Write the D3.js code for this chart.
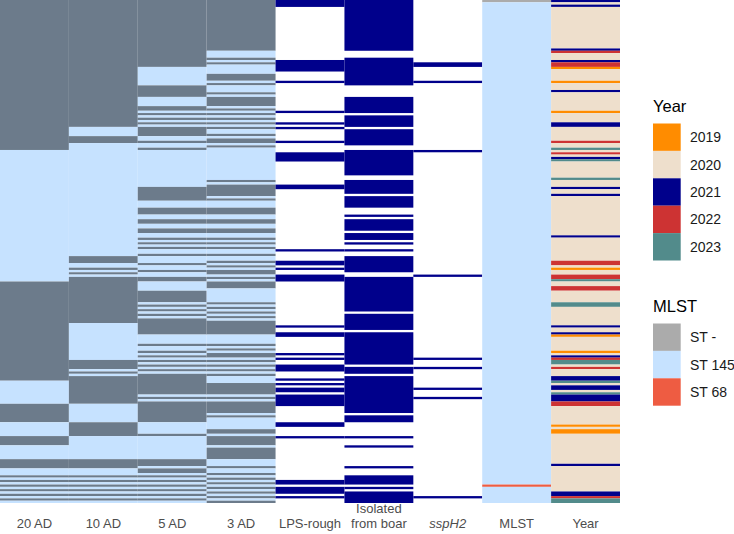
<!DOCTYPE html>
<html>
<head>
<meta charset="utf-8">
<script src="https://cdn.jsdelivr.net/npm/d3@7"></script>
<style>
  body { margin: 0; background: #fff; }
  svg { display: block; font-family: "Liberation Sans", Arial, sans-serif; }
</style>
</head>
<body>
<svg width="734" height="534"></svg>
<script>
// number of isolates = rows of the heatmap
const nRows = 218;

// columns along the bottom
const columns = ['20 AD', '10 AD', '5 AD', '3 AD', 'LPS-rough', 'Isolated from boar', 'sspH2', 'MLST', 'Year'];

// AD columns as runs of [value, count] from the top, 1 = dark, 0 = light
const ad20Runs = [[1,65],[0,57],[1,43],[0,10],[1,8],[0,6],[1,4],[0,6],[1,4],[0,3],
  [1,1],[0,1],[1,1],[0,1],[1,1],[0,1],[1,1],[0,1],[1,1],[0,1],[1,1],[0,1]];
const ad10Runs = [[1,55],[0,4],[1,3],[0,49],[1,3],[0,2],[1,1],[0,1],[1,1],[0,1],[1,20],[0,16],
  [1,4],[0,1],[1,1],[0,1],[1,12],[0,8],[1,6],[0,10],[1,4],[0,3],
  [1,1],[0,1],[1,1],[0,1],[1,1],[0,1],[1,1],[0,1],[1,1],[0,1],[1,1],[0,1]];
const ad5Runs = [[1,29],[0,8],[1,5],[0,4],[1,2],[0,1],[1,1],[0,1],[1,1],[0,1],[1,1],[0,1],[1,4],
  [0,2],[1,1],[0,2],[1,1],[0,16],[1,6],[0,3],[1,3],[0,2],[1,2],[0,2],[1,2],[0,2],
  [1,1],[0,1],[1,1],[0,1],[1,1],[0,2],[1,1],[0,3],[1,1],[0,2],[1,1],[0,2],[1,2],[0,4],[1,5],[0,1],
  [1,1],[0,1],[1,1],[0,1],[1,1],[0,1],[1,7],[0,4],[1,1],[0,2],
  [1,1],[0,1],[1,1],[0,1],[1,1],[0,1],[1,1],[0,1],[1,1],[0,1],[1,9],
  [0,1],[1,1],[0,1],[1,9],[0,5],[1,1],[0,10],[1,3],[0,1],[1,2],
  [0,1],[1,1],[0,1],[1,1],[0,1],[1,1],[0,1],[1,1],[0,1],[1,1],[0,1],[1,1],[0,1]];
const ad3Runs = [[1,22],[0,3],[1,1],[0,1],[1,1],[0,4],[1,3],[0,1],[1,1],[0,3],[1,1],[0,1],[1,4],[0,1],[1,1],
  [0,1],[1,1],[0,1],[1,1],[0,1],[1,1],[0,1],[1,1],
  [0,2],[1,1],[0,1],[1,2],[0,1],[1,1],[0,14],[1,1],[0,1],[1,5],[0,1],[1,1],
  [0,3],[1,3],[0,2],[1,2],[0,2],[1,2],[0,2],[1,1],[0,1],[1,1],[0,1],[1,1],[0,2],[1,1],
  [0,2],[1,1],[0,1],[1,1],[0,1],[1,2],[0,1],[1,1],[0,1],[1,3],[0,6],[1,1],[0,1],
  [1,1],[0,1],[1,1],[0,1],[1,1],[0,1],[1,6],[0,4],[1,1],[0,1],[1,1],[0,1],[1,2],
  [0,1],[1,1],[0,1],[1,1],[0,1],[1,1],[0,1],[1,1],
  [0,3],[1,5],[0,1],[1,1],[0,1],[1,5],[0,1],[1,1],[0,5],[1,2],[0,1],[1,4],[0,1],[1,5],[0,3],[1,1],[0,2],
  [1,1],[0,1],[1,1],[0,1],[1,1],[0,1],[1,1],[0,1],[1,1],[0,1],[1,1],[0,1],[1,1]];

// binary columns: [first row, last row] ranges that are positive
const lpsRough = [[0,2],[26,30],[35,35],[48,48],[53,53],[55,55],[61,61],[66,69],[80,81],[108,108],
  [113,114],[116,116],[119,121],[141,141],[144,145],[153,153],[155,155],[158,160],[164,164],[166,166],
  [168,169],[171,175],[183,184],[189,189],[208,209],[211,213],[215,215]];
const fromBoar = [[0,21],[25,36],[42,48],[50,54],[56,62],[65,75],[78,83],[85,89],[93,93],[95,99],
  [101,103],[105,105],[108,108],[111,117],[120,134],[136,142],[144,157],[159,161],[163,178],[180,182],
  [189,189],[193,193],[202,202],[206,209],[211,211],[213,217]];
const sspH2 = [[27,28],[35,35],[65,65],[119,119],[155,155],[159,159],[168,168],[172,172],[215,215]];

// MLST: ST 145 everywhere except these rows
const mlstLevels = ['ST -', 'ST 145', 'ST 68'];
const mlstRowsUnknown = [0];
const mlstRows68 = [210];

// Year: 2020 everywhere except these rows
const yearLevels = ['2019', '2020', '2021', '2022', '2023'];
const yearRows2019 = [29, 35, 48, 116, 145, 152, 184, 186, 187];
const yearRows2021 = [0, 2, 21, 26, 39, 53, 54, 68, 81, 84, 102, 141, 144, 154, 163, 164, 167, 168,
  171, 172, 173, 201, 213, 214];
const yearRows2022 = [22, 27, 28, 61, 66, 113, 114, 119, 120, 124, 125, 155, 159, 174, 175, 215];
const yearRows2023 = [64, 69, 77, 121, 131, 132, 156, 157, 165, 170, 216, 217];

//colors
const adColor = d3.scaleOrdinal([1, 0], ['#6C7B8B', '#C6E2FF']);
const navy = '#00008B';
const mlstColor = d3.scaleOrdinal(mlstLevels, ['#ABABAB', '#C6E2FF', '#EE5C42']);
const yearColor = d3.scaleOrdinal(yearLevels, ['#FF8C00', '#EEDFCC', '#00008B', '#CD3333', '#528B8B']);

// helpers to turn the lists above into one value per row
const fromRuns = runs => runs.flatMap(([v, n]) => Array(n).fill(v));
const fromRanges = ranges => {
  const a = Array(nRows).fill(0);
  ranges.forEach(([s, e]) => { for (let i = s; i <= e; i++) a[i] = 1; });
  return a;
};
const mlst = Array(nRows).fill('ST 145');
mlstRowsUnknown.forEach(i => mlst[i] = 'ST -');
mlstRows68.forEach(i => mlst[i] = 'ST 68');
const year = Array(nRows).fill('2020');
yearRows2019.forEach(i => year[i] = '2019');
yearRows2021.forEach(i => year[i] = '2021');
yearRows2022.forEach(i => year[i] = '2022');
yearRows2023.forEach(i => year[i] = '2023');

// one entry per column: row values and how to colour them (null = left white)
const cols = [
  { name: '20 AD', values: fromRuns(ad20Runs), fill: adColor },
  { name: '10 AD', values: fromRuns(ad10Runs), fill: adColor },
  { name: '5 AD', values: fromRuns(ad5Runs), fill: adColor },
  { name: '3 AD', values: fromRuns(ad3Runs), fill: adColor },
  { name: 'LPS-rough', values: fromRanges(lpsRough), fill: v => v ? navy : null },
  { name: 'Isolated from boar', values: fromRanges(fromBoar), fill: v => v ? navy : null },
  { name: 'sspH2', values: fromRanges(sspH2), fill: v => v ? navy : null },
  { name: 'MLST', values: mlst, fill: mlstColor },
  { name: 'Year', values: year, fill: yearColor }
];

// merge neighbouring rows with the same value into one block
function segments(vals) {
  const segs = [];
  let s = 0;
  for (let i = 1; i <= vals.length; i++) {
    if (i === vals.length || vals[i] !== vals[s]) {
      segs.push({ start: s, end: i, value: vals[s] });
      s = i;
    }
  }
  return segs;
}

const svg = d3.select('svg');
const plotH = 503;

const x = d3.scaleBand().domain(columns).range([0, 620]);
const y = d3.scaleLinear().domain([0, nRows]).range([0, plotH]);

const heat = svg.append('g');
cols.forEach(c => {
  heat.append('g')
    .selectAll('rect')
    .data(segments(c.values).filter(d => c.fill(d.value)))
    .join('rect')
    .attr('x', x(c.name))
    .attr('width', x.bandwidth())
    .attr('y', d => y(d.start))
    .attr('height', d => y(d.end) - y(d.start))
    .attr('fill', d => c.fill(d.value));
});

// bottom labels
const axis = svg.append('g')
  .attr('transform', `translate(0,${plotH})`)
  .call(d3.axisBottom(x).tickSize(0));
axis.select('.domain').remove();
axis.selectAll('.tick text')
  .attr('fill', '#4D4D4D')
  .attr('font-size', 13)
  .attr('font-family', '"Liberation Sans", Arial, sans-serif')
  .attr('font-style', d => d === 'sspH2' ? 'italic' : null)
  .each(function (d) {
    const lines = d === 'Isolated from boar' ? ['Isolated', 'from boar'] : [d];
    const t = d3.select(this).text(null).attr('dy', null).attr('y', 0);
    lines.forEach((l, i) => {
      t.append('tspan').attr('x', 0).attr('y', 24.5 - (lines.length - 1 - i) * 14.5).text(l);
    });
  });

// legends
function legend(title, levels, color, top) {
  const g = svg.append('g').attr('transform', `translate(653,${top})`);
  g.append('text').attr('x', 0).attr('y', 0).attr('font-size', 16.5).attr('fill', '#000').text(title);
  const keyH = 27.4;
  const item = g.selectAll('.item').data(levels).join('g')
    .attr('class', 'item')
    .attr('transform', (d, i) => `translate(0,${12 + i * keyH})`);
  item.append('rect').attr('width', 27.7).attr('height', keyH).attr('fill', d => color(d));
  item.append('text').attr('x', 37).attr('y', keyH / 2 + 5)
    .attr('font-size', 14).attr('fill', '#1A1A1A').text(d => d);
}
legend('Year', yearLevels, yearColor, 111.5);
legend('MLST', mlstLevels, mlstColor, 311.5);
</script>
</body>
</html>
